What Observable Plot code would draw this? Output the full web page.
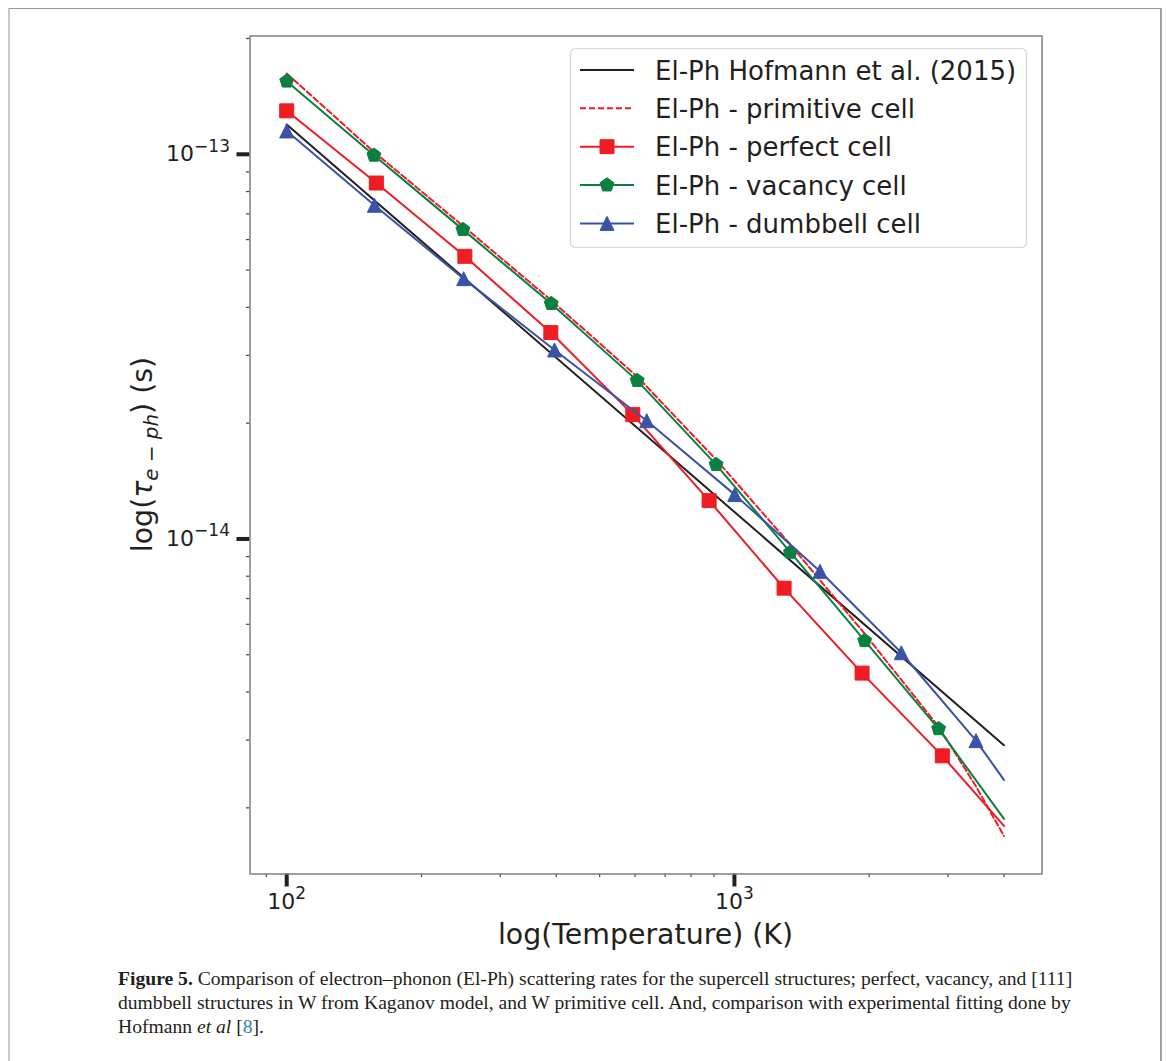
<!DOCTYPE html>
<html>
<head>
<meta charset="utf-8">
<script src="https://cdn.jsdelivr.net/npm/d3@7"></script>
<script src="https://cdn.jsdelivr.net/npm/@observablehq/plot@0.6"></script>
<style>
html, body { margin: 0; padding: 0; background: #fff; }
#page { position: relative; width: 1166px; height: 1061px; overflow: hidden; background: #fff; }
#border { position: absolute; left: 8px; top: 8px; width: 1154px; height: 1080px; border-top: 1px solid #9b9b9b; border-left: 2px solid #c9c9c9; border-right: 2px solid #a3a3a3; box-sizing: border-box; pointer-events: none; }
#chart { position: absolute; left: 0; top: 0; }
#caption { position: absolute; left: 118px; top: 967px; font-family: "Liberation Serif", "DejaVu Serif", serif; color: #231f20; white-space: nowrap; line-height: 24px; font-size: 20px; }
#caption .ln { display: block; }
#caption .ref { color: #2a7fc1; }
</style>
</head>
<body>
<div id="page">
  <div id="chart"></div>
  <div id="caption">
    <span class="ln" id="cap1"><b>Figure 5.</b> Comparison of electron–phonon (El-Ph) scattering rates for the supercell structures; perfect, vacancy, and [111]</span>
    <span class="ln">dumbbell structures in W from Kaganov model, and W primitive cell. And, comparison with experimental fitting done by</span>
    <span class="ln">Hofmann <i>et al</i> [<span class="ref">8</span>].</span>
  </div>
  <div id="border"></div>
</div>
<script>
// ---------------- data ----------------
const xMajor = [100, 1000];
const xMinor = [90, 200, 300, 400, 500, 600, 700, 800, 900, 2000, 3000, 4000];
const yMajor = [1e-14, 1e-13];
const yMinor = [2e-15, 3e-15, 4e-15, 5e-15, 6e-15, 7e-15, 8e-15, 9e-15,
                2e-14, 3e-14, 4e-14, 5e-14, 6e-14, 7e-14, 8e-14, 9e-14, 2e-13];

const xLabel = "log(Temperature) (K)";
const legendLabels = [
  "El-Ph Hofmann et al. (2015)",
  "El-Ph - primitive cell",
  "El-Ph - perfect cell",
  "El-Ph - vacancy cell",
  "El-Ph - dumbbell cell"
];

// Hofmann et al. (2015) fit
const hofmannT   = [100, 4000];
const hofmannTau = [1.195e-13, 2.91e-15];

// primitive cell (dashed, no markers)
const primitiveT   = [100, 157, 248, 390, 607, 910, 1334, 1954, 2858, 3460, 4000];
const primitiveTau = [1.622e-13, 1.012e-13, 6.50e-14, 4.17e-14, 2.64e-14, 1.608e-14,
                      9.66e-15, 5.67e-15, 3.25e-15, 2.28e-15, 1.69e-15];

// perfect cell (markers at all points except the last, 4000 K)
const perfectT   = [100, 158.6, 250, 389, 593, 878, 1291, 1928, 2913, 4000];
const perfectTau = [1.297e-13, 8.42e-14, 5.43e-14, 3.44e-14, 2.105e-14, 1.258e-14,
                    7.45e-15, 4.48e-15, 2.73e-15, 1.795e-15];

// vacancy cell
const vacancyT   = [100, 156.6, 247.5, 389.8, 606.6, 910, 1334, 1954, 2858, 4000];
const vacancyTau = [1.549e-13, 9.94e-14, 6.37e-14, 4.09e-14, 2.58e-14, 1.561e-14,
                    9.23e-15, 5.44e-15, 3.21e-15, 1.872e-15];

// dumbbell cell
const dumbbellT   = [100, 157, 248.4, 396.5, 637, 1001.5, 1553, 2359, 3464, 4000];
const dumbbellTau = [1.15e-13, 7.37e-14, 4.75e-14, 3.10e-14, 2.03e-14, 1.304e-14,
                     8.24e-15, 5.06e-15, 2.99e-15, 2.365e-15];

// ---------------- styling ----------------
const cBlack = "#231f20", cRed = "#ee1d23", cGreen = "#0a8040", cBlue = "#3a53a4";
const textColor = "#231f20";

const squareSym = { draw(ctx, size) { const r = Math.sqrt(size / Math.PI); ctx.rect(-r, -r, 2 * r, 2 * r); } };
const triangleSym = { draw(ctx, size) { const r = Math.sqrt(size / Math.PI); ctx.moveTo(0, -r); ctx.lineTo(r, r); ctx.lineTo(-r, r); ctx.closePath(); } };
const pentagonSym = { draw(ctx, size) {
  const r = Math.sqrt(size / Math.PI);
  for (let k = 0; k < 5; k++) {
    const a = -Math.PI / 2 + k * 2 * Math.PI / 5;
    const x = r * Math.cos(a), y = r * Math.sin(a);
    if (k) ctx.lineTo(x, y); else ctx.moveTo(x, y);
  }
  ctx.closePath();
} };

const toRows = (T, tau) => T.map((t, i) => ({T: t, tau: tau[i]}));
const withMarkers = rows => rows.slice(0, -1);

const hof = toRows(hofmannT, hofmannTau);
const prim = toRows(primitiveT, primitiveTau);
const perf = toRows(perfectT, perfectTau);
const vac = toRows(vacancyT, vacancyTau);
const dumb = toRows(dumbbellT, dumbbellTau);

const W = 1166, H = 958;
const frameL = 249.5, frameR = 1041.5, frameT = 35.5, frameB = 873.5;
const xDomain = [82.8, 4864];
const yDomain = [1.346e-15, 2.03e-13];

const supFmt = d => "10^" + Math.round(Math.log10(d));
const lw = 2;

const plot = Plot.plot({
  width: W, height: H,
  marginLeft: frameL, marginRight: W - frameR, marginTop: frameT, marginBottom: H - frameB,
  x: {type: "log", domain: xDomain, label: null},
  y: {type: "log", domain: yDomain, label: null},
  style: {fontFamily: "DejaVu Sans", background: "transparent", color: textColor, overflow: "visible"},
  marks: [
    Plot.axisX({ticks: xMinor, tickSize: 3.5, strokeWidth: 1.2, stroke: "#444", tickFormat: () => "", label: null}),
    Plot.axisY({ticks: yMinor, tickSize: 3.5, strokeWidth: 1.2, stroke: "#444", tickFormat: () => "", label: null}),
    Plot.axisX({ticks: xMajor, tickSize: 13, strokeWidth: 4, stroke: textColor, fill: textColor, tickPadding: 6, fontSize: 22, tickFormat: supFmt, label: null}),
    Plot.axisY({ticks: yMajor, tickSize: 13, strokeWidth: 4, stroke: textColor, fill: textColor, tickPadding: 7, fontSize: 22, tickFormat: supFmt, label: null}),
    Plot.line(hof, {x: "T", y: "tau", stroke: cBlack, strokeWidth: lw}),
    Plot.line(prim, {x: "T", y: "tau", stroke: cRed, strokeWidth: lw, strokeDasharray: "6,3"}),
    Plot.line(perf, {x: "T", y: "tau", stroke: cRed, strokeWidth: lw}),
    Plot.dot(withMarkers(perf), {x: "T", y: "tau", symbol: squareSym, r: 7, fill: cRed, stroke: cRed, strokeWidth: 1}),
    Plot.line(vac, {x: "T", y: "tau", stroke: cGreen, strokeWidth: lw}),
    Plot.dot(withMarkers(vac), {x: "T", y: "tau", symbol: pentagonSym, r: 7.3, fill: cGreen, stroke: cGreen, strokeWidth: 1}),
    Plot.line(dumb, {x: "T", y: "tau", stroke: cBlue, strokeWidth: lw}),
    Plot.dot(withMarkers(dumb), {x: "T", y: "tau", symbol: triangleSym, r: 7, fill: cBlue, stroke: cBlue, strokeWidth: 1}),
    Plot.frame({stroke: "#808080", strokeWidth: 1.5})
  ]
});

const svg = d3.select(plot);

// superscript tick labels
svg.selectAll("text").each(function () {
  const s = this.textContent;
  const m = s.match(/^10\^(-?\d+)$/);
  if (!m) return;
  const el = d3.select(this);
  el.selectAll("*").remove();
  el.text(null);
  el.append("tspan").text("10");
  el.append("tspan").attr("font-size", 17).attr("dy", -9.8).text(m[1].replace("-", "\u2212"));
});

// axis labels
svg.append("text")
  .attr("x", (frameL + frameR) / 2).attr("y", 944)
  .attr("text-anchor", "middle").attr("font-family", "DejaVu Sans").attr("font-size", 28.4)
  .attr("fill", textColor).text(xLabel);

const yl = svg.append("text")
  .attr("transform", `translate(152,${(frameT + frameB) / 2}) rotate(-90)`)
  .attr("text-anchor", "middle").attr("font-family", "DejaVu Sans").attr("font-size", 28.4)
  .attr("fill", textColor);
yl.append("tspan").text("log(");
yl.append("tspan").attr("font-style", "italic").text("τ");
yl.append("tspan").attr("font-size", 19.9).attr("dy", 6).attr("font-style", "italic").text("e");
yl.append("tspan").attr("font-size", 19.9).text(" \u2212 ");
yl.append("tspan").attr("font-size", 19.9).attr("font-style", "italic").text("ph");
yl.append("tspan").attr("dy", -6).text(") (s)");

// legend
const legendStyles = [
  {color: cBlack, dash: null, sym: null, r: 0},
  {color: cRed, dash: "6,3", sym: null, r: 0},
  {color: cRed, dash: null, sym: squareSym, r: 7},
  {color: cGreen, dash: null, sym: pentagonSym, r: 7.3},
  {color: cBlue, dash: null, sym: triangleSym, r: 7}
];
const leg = svg.append("g").attr("text-anchor", "start");
leg.append("rect").attr("x", 570.5).attr("y", 48.5).attr("width", 456).attr("height", 199)
  .attr("rx", 5).attr("fill", "white").attr("fill-opacity", 0.85)
  .attr("stroke", "#d6d6d6").attr("stroke-width", 1.2);
legendLabels.forEach((lab, i) => {
  const cy = 70 + i * 38.35;
  const st = legendStyles[i];
  leg.append("line").attr("x1", 580).attr("x2", 634).attr("y1", cy).attr("y2", cy)
    .attr("stroke", st.color).attr("stroke-width", lw)
    .attr("stroke-dasharray", st.dash);
  if (st.sym) {
    leg.append("path").attr("transform", `translate(607,${cy})`)
      .attr("d", d3.symbol(st.sym, st.r * st.r * Math.PI)())
      .attr("fill", st.color).attr("stroke", st.color).attr("stroke-width", 1);
  }
  leg.append("text").attr("x", 655).attr("y", cy + 9.5).attr("text-anchor", "start")
    .attr("font-family", "DejaVu Sans").attr("font-size", 26).attr("fill", textColor).text(lab);
});

document.getElementById("chart").appendChild(plot);

// fit caption font size so that line 1 spans like the reference
(function fitCaption() {
  const cap = document.getElementById("caption");
  const l1 = document.getElementById("cap1");
  l1.style.display = "inline-block";
  const w = l1.getBoundingClientRect().width;
  l1.style.display = "block";
  if (w > 0) {
    const fs = 20 * 954 / w;
    cap.style.fontSize = fs.toFixed(2) + "px";
  }
})();
</script>
</body>
</html>
